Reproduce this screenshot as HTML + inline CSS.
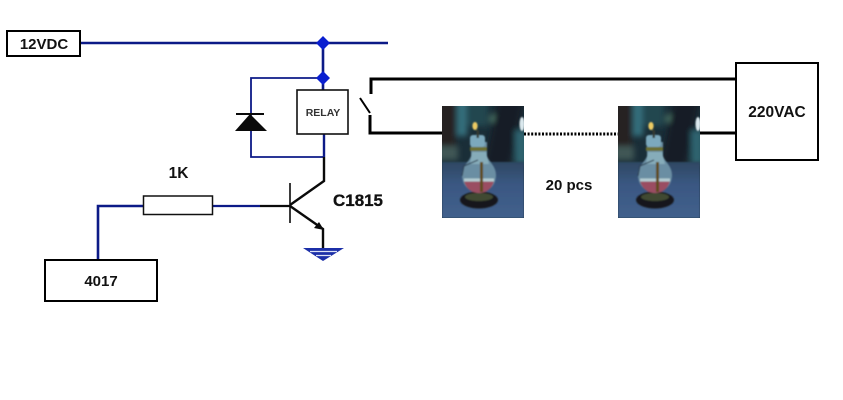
<!DOCTYPE html>
<html><head><meta charset="utf-8"><style>
html,body{margin:0;padding:0;background:#fff;width:843px;height:400px;overflow:hidden}
svg{display:block}
text{font-family:"Liberation Sans",sans-serif;font-weight:bold;fill:#111}
</style></head><body>
<svg width="843" height="400" viewBox="0 0 843 400" xmlns="http://www.w3.org/2000/svg">
<defs>
<filter id="b3" x="-30%" y="-30%" width="160%" height="160%"><feGaussianBlur stdDeviation="3"/></filter>
<filter id="b1" x="-30%" y="-30%" width="160%" height="160%"><feGaussianBlur stdDeviation="0.7"/></filter>
<linearGradient id="fl" x1="0" y1="0" x2="0" y2="1"><stop offset="0" stop-color="#2e4862"/><stop offset="0.4" stop-color="#3a5782"/><stop offset="1" stop-color="#41608c"/></linearGradient>
<clipPath id="c"><rect width="82" height="112"/></clipPath>
<g id="lamp" clip-path="url(#c)">
  <rect width="82" height="112" fill="#1a2e38"/>
  <g filter="url(#b3)">
    <rect x="-6" y="-6" width="20" height="50" fill="#252320"/>
    <rect x="15" y="-6" width="10" height="36" fill="#356f7d"/>
    <rect x="26" y="-6" width="20" height="26" fill="#214750"/>
    <circle cx="53" cy="13" r="5" fill="#558371"/>
    <path d="M56 -6H82L68 60H42Z" fill="#161d26"/>
    <rect x="73" y="24" width="12" height="34" fill="#2f6370"/>
    <rect x="-4" y="40" width="20" height="14" fill="#3f5655"/>
  </g>
  <rect y="56" width="82" height="56" fill="url(#fl)" filter="url(#b1)"/>
  <ellipse cx="80" cy="18" rx="2.500" ry="7" fill="#dbe9ee" filter="url(#b1)"/>
  <g filter="url(#b1)">
    <ellipse cx="37" cy="94" rx="19" ry="8.500" fill="#12181a"/>
    <ellipse cx="37" cy="91" rx="14" ry="4" fill="#3f4a30"/>
    <path d="M29 36H45V50C47 56 54 60 54 69C54 80 46 86 37 87C28 86 20 80 20 69C20 60 27 56 29 50Z" fill="#6a8ea3"/>
    <path d="M22 75H52C50 83 44 87 37 87C30 87 24 83 22 75Z" fill="#9a4d62"/>
    <path d="M22 72.500H52V75.500H22Z" fill="#b4ccd2"/>
    <rect x="28" y="29" width="15" height="12" rx="3" fill="#7ca9bd"/>
    <rect x="28" y="41" width="17" height="4" fill="#6c7030"/>
    <path d="M30 46H44L47 58H28Z" fill="#86acb9"/>
    <rect x="38" y="56" width="3" height="30" fill="#5e4c1c"/>
    <path d="M36 54L22 60L20 70" fill="none" stroke="#26394c" stroke-width="1"/>
    <rect x="34.500" y="24" width="2.500" height="8" fill="#343a33"/>
    <ellipse cx="33" cy="20" rx="2.600" ry="4" fill="#eccb63"/>
  </g>
</g>
</defs>

<!-- blue wiring -->
<g fill="none" stroke="#0c1a87">
  <path d="M80 43H388" stroke-width="2.600"/>
  <path d="M323 43V90" stroke-width="2.600"/>
  <path d="M323 78H251V157H324" stroke-width="1.800"/>
  <path d="M324 134V157" stroke-width="2.400"/>
  <path d="M98 259V206H143" stroke-width="2.600"/>
  <path d="M213 206H260" stroke-width="2.200"/>
</g>
<path d="M323 36L330 43L323 50L316 43Z M323 71L330 78L323 85L316 78Z" fill="#0a1fd0"/>

<!-- diode -->
<path d="M250 114L235 131H267Z" fill="#0a0a0a"/>
<path d="M236 114H264" stroke="#0a0a0a" stroke-width="2" fill="none"/>

<!-- transistor -->
<g fill="none" stroke="#0a0a0a">
  <path d="M260 206H290" stroke-width="2.200"/>
  <path d="M290 183V223" stroke-width="1.600"/>
  <path d="M290 205L324 181V157" stroke-width="2.400"/>
  <path d="M290 206L323 229V250" stroke-width="2.400"/>
</g>
<path d="M324 230L314 228L319 222Z" fill="#0a0a0a"/>
<!-- ground -->
<path d="M303 248H344L323 261Z" fill="#1c2fa8"/>
<path d="M310 251.500H337M316 255.500H331" stroke="#dfe4f6" stroke-width="1.300" fill="none"/>

<!-- relay -->
<rect x="297" y="90" width="51" height="44" fill="#fff" stroke="#111" stroke-width="1.600"/>
<text x="323" y="116" font-size="10.500" text-anchor="middle" style="font-weight:bold;fill:#333">RELAY</text>

<!-- mains wiring -->
<g fill="none" stroke="#000">
  <path d="M371 94V79H736" stroke-width="3"/>
  <path d="M370 115V133H442" stroke-width="3"/>
  <path d="M360 98L370 113" stroke-width="2"/>
  <path d="M700 133H736" stroke-width="3"/>
  <path d="M524 134H618" stroke-width="3" stroke-dasharray="2 1.600"/>
</g>

<!-- boxes -->
<rect x="7" y="31" width="73" height="25" fill="#fff" stroke="#000" stroke-width="2"/>
<text x="44" y="49" font-size="15" text-anchor="middle">12VDC</text>
<rect x="143.500" y="196" width="69" height="18.500" fill="#fff" stroke="#111" stroke-width="1.500"/>
<text x="178.500" y="178" font-size="15.500" text-anchor="middle">1K</text>
<rect x="45" y="260" width="112" height="41" fill="#fff" stroke="#000" stroke-width="2"/>
<text x="101" y="286" font-size="15" text-anchor="middle">4017</text>
<rect x="736" y="63" width="82" height="97" fill="#fff" stroke="#000" stroke-width="2"/>
<text x="777" y="117" font-size="15.500" text-anchor="middle">220VAC</text>
<text x="333" y="206" font-size="16.500" stroke="#111" stroke-width="0.300" textLength="50" lengthAdjust="spacingAndGlyphs">C1815</text>
<text x="569" y="190" font-size="15" text-anchor="middle">20 pcs</text>

<use href="#lamp" x="442" y="106"/>
<use href="#lamp" x="618" y="106"/>
</svg>
</body></html>
